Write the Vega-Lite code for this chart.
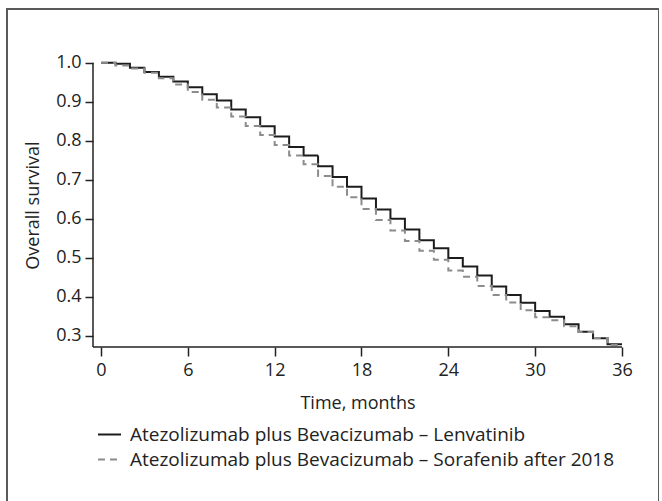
{
  "$schema": "https://vega.github.io/schema/vega-lite/v6.json",
  "width": 652,
  "height": 500,
  "autosize": {"type": "none"},
  "padding": {"left": 7, "top": 9, "right": 0, "bottom": 0},
  "background": "white",
  "config": {
    "view": {"stroke": "#5a5a5a", "strokeWidth": 2},
    "font": "Open Sans"
  },
  "datasets": {
    "frame": [
      {"t": -0.553, "t2": 36, "s": 0.2718, "s2": 0.2718},
      {"t": -0.553, "t2": -0.553, "s": 0.2718, "s2": 1.0}
    ],
    "km": [
      {"t": 0, "s": 1.000, "g": "Atezolizumab plus Bevacizumab – Lenvatinib"},
      {"t": 1, "s": 0.997, "g": "Atezolizumab plus Bevacizumab – Lenvatinib"},
      {"t": 2, "s": 0.987, "g": "Atezolizumab plus Bevacizumab – Lenvatinib"},
      {"t": 3, "s": 0.976, "g": "Atezolizumab plus Bevacizumab – Lenvatinib"},
      {"t": 4, "s": 0.964, "g": "Atezolizumab plus Bevacizumab – Lenvatinib"},
      {"t": 5, "s": 0.952, "g": "Atezolizumab plus Bevacizumab – Lenvatinib"},
      {"t": 6, "s": 0.937, "g": "Atezolizumab plus Bevacizumab – Lenvatinib"},
      {"t": 7, "s": 0.919, "g": "Atezolizumab plus Bevacizumab – Lenvatinib"},
      {"t": 8, "s": 0.903, "g": "Atezolizumab plus Bevacizumab – Lenvatinib"},
      {"t": 9, "s": 0.880, "g": "Atezolizumab plus Bevacizumab – Lenvatinib"},
      {"t": 10, "s": 0.860, "g": "Atezolizumab plus Bevacizumab – Lenvatinib"},
      {"t": 11, "s": 0.837, "g": "Atezolizumab plus Bevacizumab – Lenvatinib"},
      {"t": 12, "s": 0.811, "g": "Atezolizumab plus Bevacizumab – Lenvatinib"},
      {"t": 13, "s": 0.784, "g": "Atezolizumab plus Bevacizumab – Lenvatinib"},
      {"t": 14, "s": 0.762, "g": "Atezolizumab plus Bevacizumab – Lenvatinib"},
      {"t": 15, "s": 0.735, "g": "Atezolizumab plus Bevacizumab – Lenvatinib"},
      {"t": 16, "s": 0.707, "g": "Atezolizumab plus Bevacizumab – Lenvatinib"},
      {"t": 17, "s": 0.682, "g": "Atezolizumab plus Bevacizumab – Lenvatinib"},
      {"t": 18, "s": 0.652, "g": "Atezolizumab plus Bevacizumab – Lenvatinib"},
      {"t": 19, "s": 0.624, "g": "Atezolizumab plus Bevacizumab – Lenvatinib"},
      {"t": 20, "s": 0.600, "g": "Atezolizumab plus Bevacizumab – Lenvatinib"},
      {"t": 21, "s": 0.573, "g": "Atezolizumab plus Bevacizumab – Lenvatinib"},
      {"t": 22, "s": 0.545, "g": "Atezolizumab plus Bevacizumab – Lenvatinib"},
      {"t": 23, "s": 0.525, "g": "Atezolizumab plus Bevacizumab – Lenvatinib"},
      {"t": 24, "s": 0.500, "g": "Atezolizumab plus Bevacizumab – Lenvatinib"},
      {"t": 25, "s": 0.478, "g": "Atezolizumab plus Bevacizumab – Lenvatinib"},
      {"t": 26, "s": 0.455, "g": "Atezolizumab plus Bevacizumab – Lenvatinib"},
      {"t": 27, "s": 0.427, "g": "Atezolizumab plus Bevacizumab – Lenvatinib"},
      {"t": 28, "s": 0.405, "g": "Atezolizumab plus Bevacizumab – Lenvatinib"},
      {"t": 29, "s": 0.385, "g": "Atezolizumab plus Bevacizumab – Lenvatinib"},
      {"t": 30, "s": 0.364, "g": "Atezolizumab plus Bevacizumab – Lenvatinib"},
      {"t": 31, "s": 0.349, "g": "Atezolizumab plus Bevacizumab – Lenvatinib"},
      {"t": 32, "s": 0.330, "g": "Atezolizumab plus Bevacizumab – Lenvatinib"},
      {"t": 33, "s": 0.311, "g": "Atezolizumab plus Bevacizumab – Lenvatinib"},
      {"t": 34, "s": 0.294, "g": "Atezolizumab plus Bevacizumab – Lenvatinib"},
      {"t": 35, "s": 0.279, "g": "Atezolizumab plus Bevacizumab – Lenvatinib"},
      {"t": 36, "s": 0.279, "g": "Atezolizumab plus Bevacizumab – Lenvatinib"},
      {"t": 0, "s": 1.000, "g": "Atezolizumab plus Bevacizumab – Sorafenib after 2018"},
      {"t": 1, "s": 0.993, "g": "Atezolizumab plus Bevacizumab – Sorafenib after 2018"},
      {"t": 2, "s": 0.985, "g": "Atezolizumab plus Bevacizumab – Sorafenib after 2018"},
      {"t": 3, "s": 0.974, "g": "Atezolizumab plus Bevacizumab – Sorafenib after 2018"},
      {"t": 4, "s": 0.960, "g": "Atezolizumab plus Bevacizumab – Sorafenib after 2018"},
      {"t": 5, "s": 0.944, "g": "Atezolizumab plus Bevacizumab – Sorafenib after 2018"},
      {"t": 6, "s": 0.925, "g": "Atezolizumab plus Bevacizumab – Sorafenib after 2018"},
      {"t": 7, "s": 0.905, "g": "Atezolizumab plus Bevacizumab – Sorafenib after 2018"},
      {"t": 8, "s": 0.885, "g": "Atezolizumab plus Bevacizumab – Sorafenib after 2018"},
      {"t": 9, "s": 0.862, "g": "Atezolizumab plus Bevacizumab – Sorafenib after 2018"},
      {"t": 10, "s": 0.838, "g": "Atezolizumab plus Bevacizumab – Sorafenib after 2018"},
      {"t": 11, "s": 0.815, "g": "Atezolizumab plus Bevacizumab – Sorafenib after 2018"},
      {"t": 12, "s": 0.789, "g": "Atezolizumab plus Bevacizumab – Sorafenib after 2018"},
      {"t": 13, "s": 0.762, "g": "Atezolizumab plus Bevacizumab – Sorafenib after 2018"},
      {"t": 14, "s": 0.740, "g": "Atezolizumab plus Bevacizumab – Sorafenib after 2018"},
      {"t": 15, "s": 0.710, "g": "Atezolizumab plus Bevacizumab – Sorafenib after 2018"},
      {"t": 16, "s": 0.682, "g": "Atezolizumab plus Bevacizumab – Sorafenib after 2018"},
      {"t": 17, "s": 0.655, "g": "Atezolizumab plus Bevacizumab – Sorafenib after 2018"},
      {"t": 18, "s": 0.625, "g": "Atezolizumab plus Bevacizumab – Sorafenib after 2018"},
      {"t": 19, "s": 0.597, "g": "Atezolizumab plus Bevacizumab – Sorafenib after 2018"},
      {"t": 20, "s": 0.570, "g": "Atezolizumab plus Bevacizumab – Sorafenib after 2018"},
      {"t": 21, "s": 0.543, "g": "Atezolizumab plus Bevacizumab – Sorafenib after 2018"},
      {"t": 22, "s": 0.518, "g": "Atezolizumab plus Bevacizumab – Sorafenib after 2018"},
      {"t": 23, "s": 0.495, "g": "Atezolizumab plus Bevacizumab – Sorafenib after 2018"},
      {"t": 24, "s": 0.468, "g": "Atezolizumab plus Bevacizumab – Sorafenib after 2018"},
      {"t": 25, "s": 0.452, "g": "Atezolizumab plus Bevacizumab – Sorafenib after 2018"},
      {"t": 26, "s": 0.428, "g": "Atezolizumab plus Bevacizumab – Sorafenib after 2018"},
      {"t": 27, "s": 0.405, "g": "Atezolizumab plus Bevacizumab – Sorafenib after 2018"},
      {"t": 28, "s": 0.386, "g": "Atezolizumab plus Bevacizumab – Sorafenib after 2018"},
      {"t": 29, "s": 0.366, "g": "Atezolizumab plus Bevacizumab – Sorafenib after 2018"},
      {"t": 30, "s": 0.348, "g": "Atezolizumab plus Bevacizumab – Sorafenib after 2018"},
      {"t": 31, "s": 0.340, "g": "Atezolizumab plus Bevacizumab – Sorafenib after 2018"},
      {"t": 32, "s": 0.325, "g": "Atezolizumab plus Bevacizumab – Sorafenib after 2018"},
      {"t": 33, "s": 0.310, "g": "Atezolizumab plus Bevacizumab – Sorafenib after 2018"},
      {"t": 34, "s": 0.295, "g": "Atezolizumab plus Bevacizumab – Sorafenib after 2018"},
      {"t": 35, "s": 0.277, "g": "Atezolizumab plus Bevacizumab – Sorafenib after 2018"},
      {"t": 36, "s": 0.277, "g": "Atezolizumab plus Bevacizumab – Sorafenib after 2018"}
    ]
  },
  "layer": [
    {
      "data": {"name": "km"},
      "mark": {"type": "line", "interpolate": "step-after", "strokeWidth": 2},
      "encoding": {
        "x": {
          "field": "t", "type": "quantitative",
          "scale": {"domain": [-6.495, 38.557], "nice": false, "zero": false},
          "axis": {
            "values": [0, 6, 12, 18, 24, 30, 36],
            "domain": false, "grid": false, "offset": -162,
            "tickSize": 9, "tickColor": "#222222", "tickWidth": 1.5,
            "labelFontSize": 18, "labelColor": "#222222", "labelPadding": 5,
            "title": "Time, months", "titleFontSize": 18, "titleFontWeight": "normal", "titleColor": "#222222",
            "titleX": 350.5, "titleY": 56, "titleBaseline": "middle", "titleAlign": "center"
          }
        },
        "y": {
          "field": "s", "type": "quantitative",
          "scale": {"domain": [-0.1432, 1.1375], "nice": false, "zero": false},
          "axis": {
            "values": [0.3, 0.4, 0.5, 0.6, 0.7, 0.8, 0.9, 1.0], "format": ".1f",
            "domain": false, "grid": false, "offset": -86,
            "tickSize": 8, "tickColor": "#222222", "tickWidth": 1.5,
            "labelFontSize": 18, "labelColor": "#222222", "labelPadding": 4,
            "title": "Overall survival", "titleFontSize": 18, "titleFontWeight": "normal", "titleColor": "#222222",
            "titleX": -60, "titleY": 196, "titleAngle": 270, "titleBaseline": "middle", "titleAlign": "center"
          }
        },
        "color": {
          "field": "g", "type": "nominal",
          "scale": {"domain": ["Atezolizumab plus Bevacizumab – Lenvatinib", "Atezolizumab plus Bevacizumab – Sorafenib after 2018"], "range": ["#1c1c1c", "#8c8c8c"]},
          "legend": {
            "orient": "none", "legendX": 90, "legendY": 413, "title": null, "padding": 0,
            "symbolType": "stroke", "symbolSize": 529, "symbolStrokeWidth": 2,
            "labelFontSize": 19, "labelColor": "#222222", "labelOffset": 8, "rowPadding": 2, "labelLimit": 600
          }
        },
        "strokeDash": {
          "field": "g", "type": "nominal",
          "scale": {"domain": ["Atezolizumab plus Bevacizumab – Lenvatinib", "Atezolizumab plus Bevacizumab – Sorafenib after 2018"], "range": [[1, 0], [7, 5]]},
          "legend": null
        }
      }
    },
    {
      "data": {"name": "frame"},
      "mark": {"type": "rule", "color": "#222222", "strokeWidth": 1.5},
      "encoding": {
        "x": {"field": "t", "type": "quantitative"},
        "x2": {"field": "t2"},
        "y": {"field": "s", "type": "quantitative"},
        "y2": {"field": "s2"}
      }
    }
  ]
}
